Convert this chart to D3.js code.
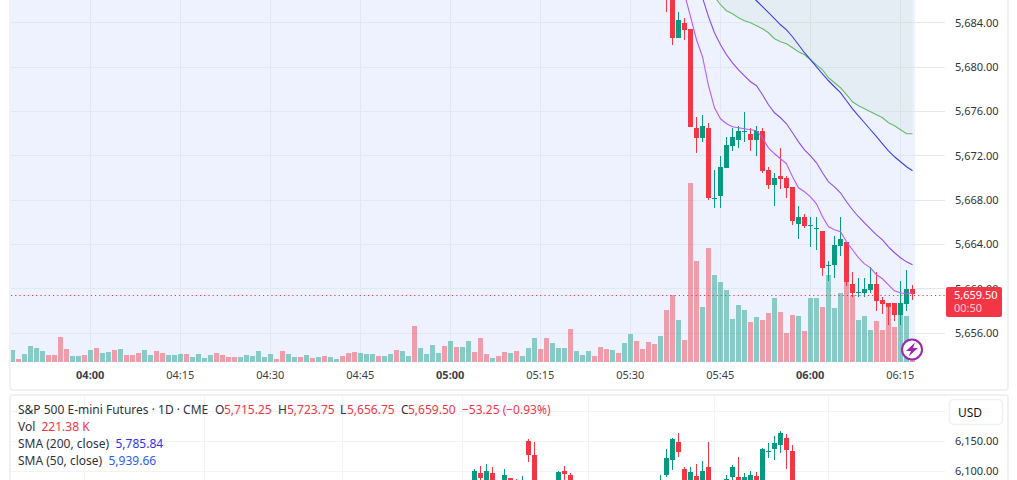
<!DOCTYPE html>
<html><head><meta charset="utf-8">
<script src="https://cdn.jsdelivr.net/npm/d3@7/dist/d3.min.js"></script>
<style>
html,body{margin:0;padding:0;background:#fff;overflow:hidden}
svg{display:block}
text{font-family:"Noto Sans",sans-serif}
</style></head><body><svg id="c" width="1017" height="480"></svg>
<script>
// ---- data ----
const timeTicks=[0,15,30,45,60,75,90,105,120,135];
const timeLabels=["04:00","04:15","04:30","04:45","05:00","05:15","05:30","05:45","06:00","06:15"];
const priceTicks=[5656,5660,5664,5668,5672,5676,5680,5684];
const dailyTicks=[6150,6100];
const dailyGridLevels=[6200,6150,6100];
const dailyGridSlots=[-65,-45,-22,-2,19,40,59];
const lastPrice=5659.50;

const volumeStart=-13;
const volumes=[12,3,8,16,14,11,7,7,25,13,6,6,7,12,14,9,10,12,13,7,7,9,12,7,11,9,7,7,8,8,5,8,4,7,9,7,5,5,5,7,6,11,5,8,3,11,8,5,5,7,4,5,6,5,3,
6,9,10,9,8,8,6,6,8,12,11,6,36,14,8,17,9,16,21,15,15,21,10,24,8,4,6,10,9,11,6,14,24,13,24,19,14,14,33,11,7,11,6,15,13,12,9,19,28,21,13,20,18,26,
52,67,42,22,179,101,55,114,87,80,72,43,57,52,40,45,42,49,64,50,29,47,46,31,64,64,55,87,54,69,80,67,42,46,32,41,32,55,35,48,46,2];
const volumeDirs=("uduuuudddd"+"uududuudud"+"dduudduuud"+"uuuudddduu"+"uuuudduudu"+"duduu"+
"ddduuuduud"+"uuduuuudud"+"uuddduddud"+"uuudduuudu"+"uuddduduud"+"dddu"+
"dduddduduu"+"uuuududdud"+"dduduuduuu"+"dduuuddddu"+"ud").split("");

const candleStart=96;
const candleOpen=[5688,5686.5,5682.65,5683.98,5683.44,5674.50,5673.60,5674.50,5668.16,5668.39,5670.92,5672.88,5673.42,5674.20,5673.96,5673.42,5674.23,5670.71,5669.36,5670.17,5669.99,5669.18,5665.84,5666.47,5665.73,5665.43,5665.21,5662.12,5662.14,5663.85,5664.21,5660.42,5659.68,5659.61,5659.88,5660.42,5658.98,5658.71,5658.71,5657.62,5658.62,5659.97];
const candleHigh=[5690,5687,5684.97,5684.43,5683.44,5675.49,5675.67,5674.95,5670.71,5671.97,5673.69,5674.50,5674.68,5675.95,5674.50,5674.68,5674.50,5670.98,5670.44,5672.70,5670.17,5669.18,5667.46,5666.74,5666.47,5666.47,5665.21,5662.50,5664.75,5666.47,5664.21,5661.51,5660.96,5660.96,5661.96,5661.51,5659.25,5658.71,5658.71,5660.69,5661.69,5660.30];
const candleLow=[5684.97,5681.99,5682.65,5682.44,5674.62,5672.25,5673.24,5668.00,5667.28,5667.28,5670.92,5672.43,5672.70,5673.24,5672.43,5671.97,5670.44,5669.00,5667.46,5669.00,5668.18,5665.75,5664.48,5665.48,5663.76,5663.49,5661.14,5660.69,5660.96,5662.95,5660.24,5659.25,5659.25,5659.25,5659.61,5657.99,5657.71,5656.72,5657.08,5656.72,5657.99,5659.00];
const candleClose=[5686.5,5682.65,5684.25,5683.35,5674.62,5673.60,5674.68,5668.16,5668.20,5670.98,5672.97,5673.69,5674.23,5674.23,5673.42,5674.23,5670.62,5669.36,5669.99,5669.90,5669.09,5666.11,5666.47,5665.66,5665.75,5665.45,5661.87,5662.14,5663.94,5664.48,5660.60,5659.61,5659.70,5659.97,5660.42,5658.89,5658.62,5658.35,5657.62,5658.71,5659.97,5659.50];

const smaAStart=99;
const smaA=[5686.62,5684.55,5682.47,5680.94,5678.32,5676.33,5675.34,5674.89,5674.62,5674.53,5674.44,5674.35,5674.26,5673.63,5672.72,5672.18,5671.73,5671.28,5670.11,5669.11,5668.75,5668.30,5667.67,5666.50,5665.59,5665.32,5665.14,5664.24,5663.52,5662.80,5662.25,5661.89,5661.26,5660.90,5660.36,5659.82,5659.64,5659.55,5659.64];
const smaBStart=102;
const smaB=[5686.26,5684.55,5683.10,5682.02,5681.12,5680.39,5679.76,5679.22,5678.68,5678.32,5677.51,5676.60,5675.88,5675.43,5674.89,5674.08,5673.26,5672.54,5672.00,5671.37,5670.47,5669.65,5669.20,5668.66,5667.85,5667.13,5666.50,5665.95,5665.41,5664.87,5664.42,5663.79,5663.25,5662.80,5662.43,5662.16];
const smaBlueStart=110;
const smaBlue=[5686.53,5685.99,5685.45,5684.91,5684.37,5683.82,5683.37,5682.74,5682.02,5681.30,5680.67,5680.03,5679.40,5678.77,5678.23,5677.69,5676.97,5676.24,5675.61,5674.98,5674.35,5673.72,5673.08,5672.45,5671.91,5671.46,5671.01,5670.65];
const smaGreenStart=104;
const smaGreen=[5686.35,5685.63,5685.09,5684.82,5684.46,5684.19,5684.00,5683.73,5683.46,5683.10,5682.56,5682.29,5682.11,5681.75,5681.39,5681.12,5680.67,5680.21,5679.76,5679.04,5678.59,5678.14,5677.51,5676.87,5676.51,5676.24,5675.97,5675.70,5675.43,5674.98,5674.71,5674.35,5673.99,5673.99];

// daily pane: slot, open, high, low, close
const dailySlots=[0,1,2,3,5,6,7,8,9,10,14,15,16,31,32,33,34,35,36,37,38,39,42,43,44,45,46,47,48,49,50,51,52,53];
const dailyOpen=[6080,6097.5,6082,6097.5,6070,6089.1,6080,6060,6151.2,6127.7,6080,6100.8,6094.1,6060,6094.1,6119.3,6149.5,6104.2,6075,6092.4,6075,6107.5,6087,6090.8,6090.8,6075,6075,6092.4,6075,6134,6137.8,6144.5,6156.2,6134.4];
const dailyHigh=[6104.2,6109.2,6112.6,6107.5,6104.2,6089.1,6087.4,6092.4,6154.5,6149.5,6100.8,6109.2,6097.5,6094.1,6137.8,6156.2,6164.6,6107.5,6107.5,6112.6,6117.6,6149.5,6094.1,6110.9,6124.3,6097.5,6100.8,6099.2,6139.4,6147.8,6159.6,6167.95,6162.9,6144.5];
const dailyLow=[6075,6080,6078,6070,6065,6060,6060,6050,6115.9,6060,6070,6085.7,6065,6050,6090.8,6102.5,6124.3,6060,6060,6060,6060,6060,6070,6080,6070,6070,6070,6075,6070,6122.6,6119.3,6131,6104.2,6070];
const dailyClose=[6100.8,6089.1,6100.8,6080,6094.1,6070,6070,6078,6127.7,6070,6099.2,6095.8,6075,6080,6122.6,6154.5,6132.7,6075,6099.2,6070,6100.8,6070,6087.4,6107.5,6075,6090.8,6094.1,6078,6137.8,6134.4,6147.8,6164.6,6136.1,6080];

// ---- colours ----
const UP="#089981",DOWN="#F23645",BG="#EEF2FF",GRID="#E3E7F3",PANEL="#F1F1F4",LIGHT="#F2F3F5";
const svg=d3.select("#c");
const defs=svg.append("defs");
defs.append("clipPath").attr("id","plot").append("rect").attr("x",11).attr("y",0).attr("width",904).attr("height",362);
defs.append("clipPath").attr("id","low").append("rect").attr("x",11).attr("y",396).attr("width",934).attr("height",84);

// scales
const x=d3.scaleLinear().domain([0,135]).range([90.5,900.5]);
const y=d3.scaleLinear().domain([5656,5684]).range([333.1,22.8]);
const vol=d3.scaleLinear().domain([0,179]).range([362,183]);
const xd=d3.scaleLinear().domain([0,53]).range([474.5,792.5]);
const yd=d3.scaleLinear().domain([6150,6100]).range([441.7,471.5]);

// panels
svg.append("rect").attr("x",10).attr("y",-10).attr("width",998).attr("height",400).attr("rx",3).attr("fill","#fff").attr("stroke",PANEL).attr("stroke-width",2);
svg.append("rect").attr("x",10).attr("y",395).attr("width",998).attr("height",120).attr("rx",3).attr("fill","#fff").attr("stroke",PANEL).attr("stroke-width",2);
svg.append("rect").attr("x",11).attr("y",0).attr("width",904).attr("height",362).attr("fill",BG);

// main grid
const gridG=svg.append("g");
gridG.selectAll("line.h").data(priceTicks).join("line").attr("x1",11).attr("x2",945)
 .attr("y1",d=>Math.floor(y(d))+.5).attr("y2",d=>Math.floor(y(d))+.5).attr("stroke",GRID).attr("stroke-width",1);
gridG.selectAll("line.v").data(timeTicks).join("line").attr("y1",0).attr("y2",362)
 .attr("x1",d=>x(d)).attr("x2",d=>x(d)).attr("stroke",GRID).attr("stroke-width",1);

const plot=svg.append("g").attr("clip-path","url(#plot)");
// volume
plot.selectAll("rect.vol").data(volumes).join("rect").attr("class","vol")
 .attr("x",(d,i)=>x(volumeStart+i)-2.5).attr("width",5)
 .attr("y",d=>Math.round(vol(d))).attr("height",d=>362-Math.round(vol(d)))
 .attr("fill",(d,i)=>volumeDirs[i]==="u"?UP:DOWN).attr("fill-opacity",.45);

// area above the green average
const lineOf=(start,c)=>d3.line().x((d,i)=>x(start+i)).y(d=>y(d))(c);
plot.append("path").attr("fill","#4CAF50").attr("fill-opacity",.065)
 .attr("d",d3.area().x((d,i)=>x(smaGreenStart+i)).y0(y(5692)).y1(d=>y(d))(smaGreen));

// candles
function candles(g,xs,ys,slots,O,H,L,C){
 const idx=d3.range(O.length);
 const col=i=>C[i]>=O[i]?UP:DOWN;
 g.selectAll("rect.w").data(idx).join("rect").attr("class","w")
  .attr("x",i=>xs(slots(i))-.5).attr("width",1)
  .attr("y",i=>Math.round(ys(H[i]))).attr("height",i=>Math.max(1,Math.round(ys(L[i]))-Math.round(ys(H[i]))))
  .attr("fill",col);
 g.selectAll("rect.b").data(idx).join("rect").attr("class","b")
  .attr("x",i=>xs(slots(i))-2.5).attr("width",5)
  .attr("y",i=>Math.round(ys(Math.max(O[i],C[i]))))
  .attr("height",i=>Math.max(1,Math.round(ys(Math.min(O[i],C[i])))-Math.round(ys(Math.max(O[i],C[i])))))
  .attr("fill",col);
}
candles(plot.append("g"),x,y,i=>candleStart+i,candleOpen,candleHigh,candleLow,candleClose);

// averages
[[smaGreenStart,smaGreen,"#66BB6A"],[smaBlueStart,smaBlue,"#3F3FF2"],[smaBStart,smaB,"#8A4DF5"],[smaAStart,smaA,"#B85CF5"]].forEach(s=>{
 plot.append("path").attr("d",lineOf(s[0],s[1])).attr("fill","none").attr("stroke",s[2]).attr("stroke-width",1.1);
});

// last price dotted line
const lastY=Math.ceil(y(lastPrice))+.5;
svg.append("line").attr("x1",11).attr("x2",946).attr("y1",lastY).attr("y2",lastY)
 .attr("stroke",DOWN).attr("stroke-width",1).attr("stroke-dasharray","1.2 3");

// axes
const tx=d3.axisBottom(x).tickValues(timeTicks).tickSize(0).tickPadding(0).tickFormat((d,i)=>timeLabels[i]);
const gx=svg.append("g").attr("transform","translate(-0.8,371)").call(tx);
gx.select(".domain").remove();
gx.selectAll("text").attr("font-size",11).attr("fill","#3b3f4a").attr("font-weight",(d)=>d%60===0?700:400);

const ty=d3.axisRight(y).tickValues(priceTicks).tickSize(0).tickPadding(0).tickFormat(d3.format(",.2f"));
const gy=svg.append("g").attr("transform","translate(955,0)").call(ty);
gy.select(".domain").remove();
gy.selectAll("text").attr("font-size",11).attr("fill","#2f333d");

// last price tag
svg.append("rect").attr("x",946).attr("y",287).attr("width",56).attr("height",30).attr("rx",2).attr("fill",DOWN);
svg.append("text").attr("x",954).attr("y",299).attr("font-size",11).attr("fill","#fff").text(d3.format(",.2f")(lastPrice));
svg.append("text").attr("x",954).attr("y",312).attr("font-size",11).attr("fill","#fff").attr("fill-opacity",.75).text("00:50");

// badge
const badge=svg.append("g").attr("transform","translate(912,349.5)");
badge.append("circle").attr("r",10).attr("fill","#fff").attr("stroke","#9C27B0").attr("stroke-width",2);
badge.append("path").attr("d","M3 -7 L-6 1.5 L-1 1.5 L-3.5 7 L6 -1.5 L1 -1.5 Z").attr("fill","#9C27B0");

// daily pane
const lowG=svg.append("g");
lowG.selectAll("line.h").data(dailyGridLevels).join("line").attr("x1",11).attr("x2",945)
 .attr("y1",d=>Math.floor(yd(d))+.5).attr("y2",d=>Math.floor(yd(d))+.5).attr("stroke",LIGHT);
lowG.selectAll("line.v").data(dailyGridSlots).join("line").attr("y1",396).attr("y2",480)
 .attr("x1",d=>xd(d)).attr("x2",d=>xd(d)).attr("stroke",LIGHT);
candles(svg.append("g").attr("clip-path","url(#low)"),xd,yd,i=>dailySlots[i],dailyOpen,dailyHigh,dailyLow,dailyClose);
const tyd=d3.axisRight(yd).tickValues(dailyTicks).tickSize(0).tickPadding(0).tickFormat(d3.format(",.2f"));
const gyd=svg.append("g").attr("transform","translate(955,-1)").call(tyd);
gyd.select(".domain").remove();
gyd.selectAll("text").attr("font-size",11).attr("fill","#2f333d");

// USD button
svg.append("rect").attr("x",949.5).attr("y",399.5).attr("width",53).attr("height",25).attr("rx",4).attr("fill","#fff").attr("stroke",PANEL).attr("stroke-width",1.5);
svg.append("text").attr("x",958).attr("y",417).attr("font-size",12).attr("fill","#131722").text("USD");

// legend
const INK="#2f333d";
const legend=[
 [18,414,"S&P 500 E-mini Futures · 1D · CME",INK],
 [215,414,"O",INK],[224,414,"5,715.25",DOWN],
 [278,414,"H",INK],[287,414,"5,723.75",DOWN],
 [340,414,"L",INK],[347,414,"5,656.75",DOWN],
 [401,414,"C",INK],[408,414,"5,659.50",DOWN],
 [462,414,"−53.25 (−0.93%)",DOWN],
 [18,431,"Vol",INK],[41.5,431,"221.38 K",DOWN],
 [18,448,"SMA (200, close)",INK],[115.5,448,"5,785.84","#3333E6"],
 [18,465,"SMA (50, close)",INK],[108.5,465,"5,939.66","#2F5BF0"]
];
svg.append("g").selectAll("text").data(legend).join("text")
 .attr("x",d=>d[0]).attr("y",d=>d[1]).attr("font-size",12).attr("fill",d=>d[3]).text(d=>d[2]);
</script>
</body></html>
